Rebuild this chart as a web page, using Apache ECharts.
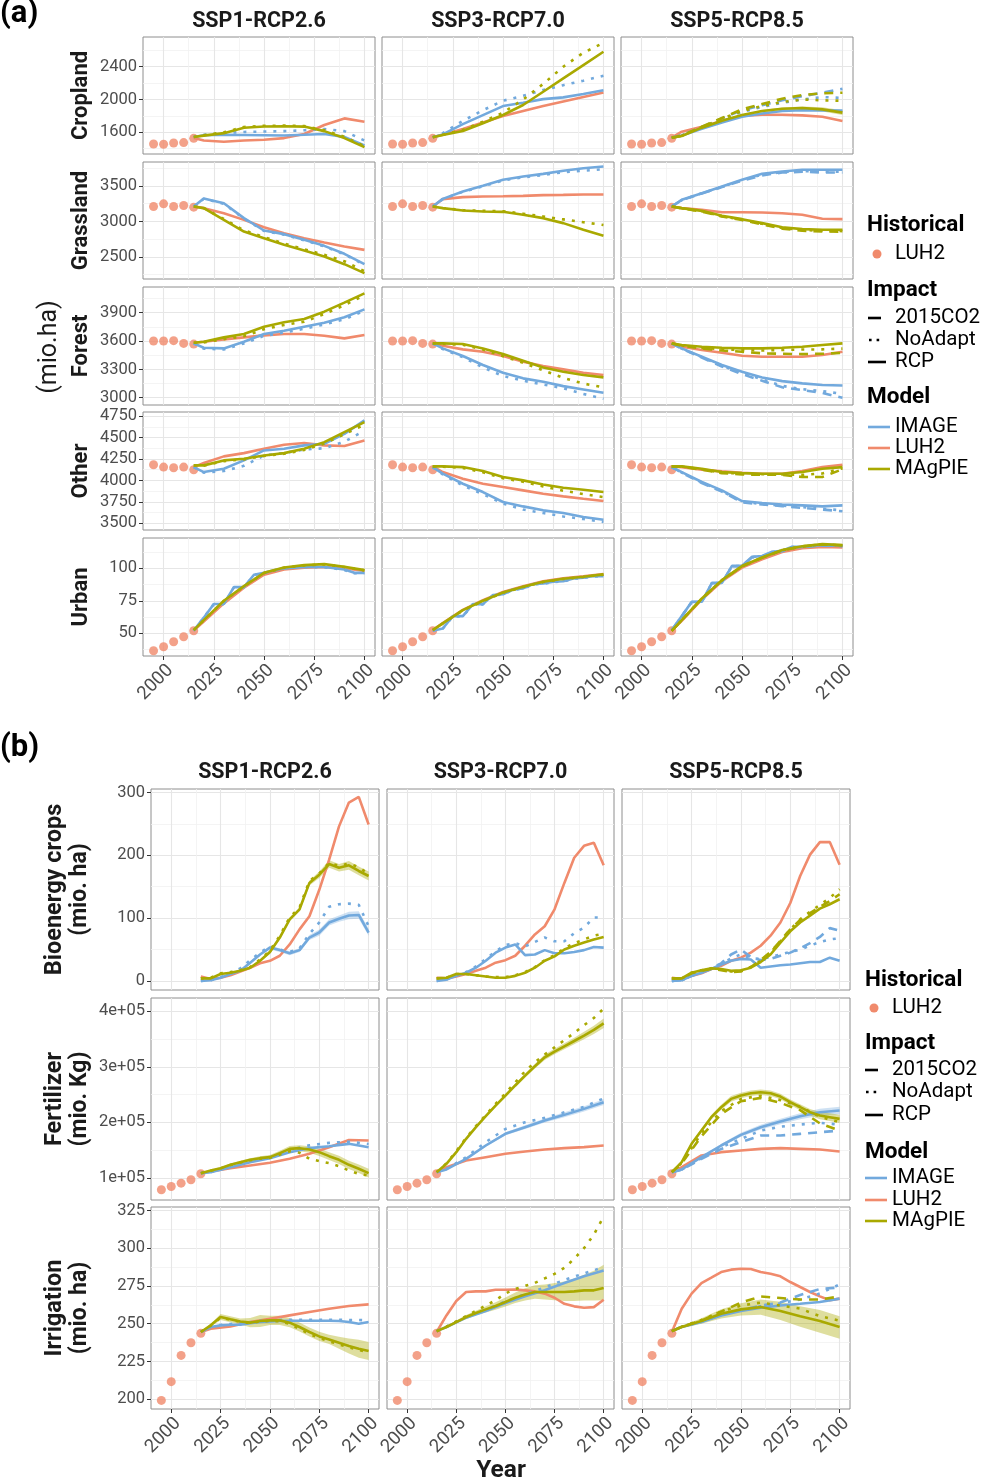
<!DOCTYPE html>
<html><head><meta charset="utf-8">
<script src="https://cdn.jsdelivr.net/npm/echarts@6/dist/echarts.min.js"></script>
<style>html,body{margin:0;padding:0;background:#fff}#c{width:984px;height:1483px}</style>
</head><body><div id="c"></div>
<script>
// ---------------- years / ticks ----------------
const YEARS_HIST = [1995, 2000, 2005, 2010, 2015];
const YEARS10 = [2015, 2020, 2030, 2040, 2050, 2060, 2070, 2080, 2090, 2100];
const YEARS5 = [2015, 2020, 2025, 2030, 2035, 2040, 2045, 2050, 2055, 2060, 2065, 2070, 2075, 2080, 2085, 2090, 2095, 2100];
const X_MAJOR = [2000, 2025, 2050, 2075, 2100];
const X_MINOR = [2012.5, 2037.5, 2062.5, 2087.5];
const SCENARIOS = ['SSP1-RCP2.6', 'SSP3-RCP7.0', 'SSP5-RCP8.5'];

// ---------------- historical (LUH2) ----------------
const HIST_CROP = [1458, 1455, 1470, 1475, 1527];
const HIST_GRASS = [3211, 3249, 3211, 3225, 3202];
const HIST_FOREST = [3600, 3600, 3604, 3575, 3568];
const HIST_OTHER = [4182, 4155, 4148, 4155, 4124];
const HIST_URBAN = [36.5, 39.6, 43.5, 47.3, 51.9];
const HIST_FERT = [78400, 84400, 90400, 96400, 107200];
const HIST_IRR = [199.2, 211.6, 229, 237.4, 243.6];

// ---------------- Cropland ----------------
const CROP_S1_LUH = [1530, 1500, 1485, 1500, 1510, 1530, 1580, 1690, 1770, 1730];
const CROP_S1_IMG_RCP = [1543, 1565, 1570, 1568, 1565, 1562, 1570, 1580, 1545, 1440];
const CROP_S1_IMG_NOA = [1543, 1570, 1590, 1605, 1610, 1615, 1625, 1640, 1615, 1500];
const CROP_S1_MAG_RCP = [1543, 1560, 1590, 1655, 1672, 1675, 1670, 1615, 1530, 1420];
const CROP_S1_MAG_NOA = [1543, 1565, 1600, 1665, 1680, 1682, 1676, 1625, 1545, 1430];
const CROP_S3_LUH = [1540, 1570, 1640, 1720, 1800, 1860, 1920, 1975, 2030, 2085];
const CROP_S3_IMG_RCP = [1540, 1575, 1700, 1810, 1920, 1960, 2005, 2026, 2067, 2112];
const CROP_S3_IMG_NOA = [1540, 1590, 1740, 1870, 1985, 2045, 2115, 2175, 2230, 2290];
const CROP_S3_MAG_RCP = [1540, 1567, 1616, 1710, 1811, 1933, 2095, 2258, 2420, 2582];
const CROP_S3_MAG_NOA = [1540, 1570, 1630, 1730, 1840, 2000, 2190, 2400, 2570, 2690];
const CROP_S5_LUH = [1535, 1608, 1669, 1738, 1799, 1815, 1815, 1807, 1790, 1738];
const CROP_S5_IMG_RCP = [1535, 1560, 1645, 1720, 1790, 1830, 1860, 1870, 1868, 1865];
const CROP_S5_IMG_CO2 = [1535, 1565, 1665, 1770, 1870, 1930, 1990, 2040, 2083, 2130];
const CROP_S5_IMG_NOA = [1535, 1565, 1660, 1760, 1850, 1910, 1960, 2000, 2030, 2020];
const CROP_S5_MAG_RCP = [1535, 1555, 1657, 1742, 1811, 1860, 1888, 1896, 1880, 1840];
const CROP_S5_MAG_CO2 = [1535, 1560, 1670, 1775, 1880, 1945, 2010, 2055, 2075, 2083];
const CROP_S5_MAG_NOA = [1535, 1558, 1665, 1765, 1860, 1920, 1970, 2000, 1990, 1985];
const CROP_S5_MAG_LO = [1535, 1553, 1652, 1735, 1802, 1848, 1872, 1876, 1855, 1810];
const CROP_S5_MAG_HI = [1535, 1557, 1662, 1749, 1820, 1872, 1904, 1916, 1905, 1870];

// ---------------- Grassland ----------------
const GRASS_S1_LUH = [3211, 3188, 3117, 3023, 2920, 2836, 2765, 2704, 2648, 2600];
const GRASS_S1_IMG_RCP = [3211, 3324, 3258, 3047, 2873, 2822, 2742, 2657, 2545, 2399];
const GRASS_S1_IMG_NOA = [3211, 3320, 3250, 3040, 2868, 2815, 2735, 2650, 2538, 2390];
const GRASS_S1_MAG_RCP = [3211, 3188, 3023, 2859, 2765, 2671, 2591, 2507, 2399, 2272];
const GRASS_S1_MAG_NOA = [3211, 3190, 3035, 2875, 2780, 2690, 2610, 2530, 2440, 2300];
const GRASS_S3_LUH = [3211, 3315, 3343, 3352, 3355, 3361, 3371, 3375, 3380, 3380];
const GRASS_S3_IMG_RCP = [3211, 3319, 3423, 3502, 3587, 3634, 3671, 3714, 3751, 3775];
const GRASS_S3_IMG_NOA = [3211, 3315, 3418, 3495, 3578, 3622, 3655, 3695, 3715, 3735];
const GRASS_S3_MAG_RCP = [3211, 3188, 3155, 3141, 3136, 3094, 3047, 2977, 2883, 2798];
const GRASS_S3_MAG_NOA = [3211, 3190, 3160, 3150, 3145, 3110, 3070, 3030, 2990, 2950];
const GRASS_S5_LUH = [3211, 3188, 3164, 3131, 3131, 3127, 3117, 3094, 3038, 3033];
const GRASS_S5_IMG_RCP = [3211, 3305, 3399, 3493, 3587, 3671, 3704, 3728, 3728, 3728];
const GRASS_S5_IMG_CO2 = [3211, 3300, 3395, 3485, 3575, 3650, 3690, 3700, 3690, 3690];
const GRASS_S5_IMG_NOA = [3211, 3302, 3397, 3488, 3580, 3660, 3695, 3710, 3700, 3700];
const GRASS_S5_MAG_RCP = [3211, 3188, 3150, 3080, 3033, 2977, 2920, 2892, 2883, 2883];
const GRASS_S5_MAG_CO2 = [3211, 3185, 3140, 3070, 3020, 2960, 2900, 2870, 2860, 2855];
const GRASS_S5_MAG_NOA = [3211, 3186, 3145, 3075, 3025, 2968, 2910, 2880, 2870, 2865];

// ---------------- Forest ----------------
const FOR_S1_LUH = [3582, 3593, 3618, 3639, 3660, 3674, 3674, 3656, 3628, 3664];
const FOR_S1_IMG_RCP = [3575, 3529, 3522, 3593, 3674, 3709, 3752, 3794, 3851, 3935];
const FOR_S1_IMG_NOA = [3575, 3520, 3510, 3575, 3655, 3690, 3730, 3775, 3830, 3920];
const FOR_S1_MAG_RCP = [3582, 3593, 3639, 3674, 3752, 3798, 3833, 3911, 4006, 4105];
const FOR_S1_MAG_NOA = [3582, 3585, 3620, 3650, 3725, 3770, 3805, 3885, 3980, 4085];
const FOR_S3_LUH = [3575, 3551, 3512, 3487, 3441, 3381, 3335, 3300, 3265, 3240];
const FOR_S3_IMG_RCP = [3575, 3522, 3441, 3346, 3265, 3205, 3169, 3123, 3088, 3053];
const FOR_S3_IMG_NOA = [3575, 3515, 3430, 3320, 3230, 3180, 3140, 3100, 3040, 2990];
const FOR_S3_MAG_RCP = [3575, 3575, 3568, 3522, 3462, 3392, 3321, 3275, 3240, 3215];
const FOR_S3_MAG_NOA = [3575, 3570, 3560, 3510, 3440, 3370, 3290, 3210, 3150, 3110];
const FOR_S5_LUH = [3575, 3540, 3505, 3476, 3445, 3434, 3434, 3434, 3452, 3487];
const FOR_S5_IMG_RCP = [3575, 3522, 3434, 3346, 3275, 3215, 3176, 3152, 3134, 3130];
const FOR_S5_IMG_CO2 = [3575, 3518, 3425, 3330, 3250, 3180, 3110, 3080, 3050, 3000];
const FOR_S5_IMG_NOA = [3575, 3520, 3430, 3338, 3262, 3195, 3125, 3090, 3070, 3040];
const FOR_S5_MAG_RCP = [3575, 3558, 3540, 3529, 3522, 3522, 3529, 3540, 3558, 3575];
const FOR_S5_MAG_CO2 = [3575, 3550, 3520, 3500, 3487, 3470, 3465, 3462, 3465, 3475];
const FOR_S5_MAG_NOA = [3575, 3553, 3528, 3512, 3505, 3500, 3505, 3510, 3512, 3520];

// ---------------- Other ----------------
const OTH_S1_LUH = [4155, 4202, 4280, 4318, 4369, 4415, 4435, 4408, 4400, 4466];
const OTH_S1_IMG_RCP = [4155, 4097, 4136, 4233, 4349, 4369, 4408, 4427, 4543, 4699];
const OTH_S1_IMG_NOA = [4155, 4090, 4110, 4170, 4290, 4320, 4360, 4375, 4450, 4580];
const OTH_S1_MAG_RCP = [4175, 4175, 4233, 4252, 4291, 4318, 4369, 4446, 4563, 4679];
const OTH_S1_MAG_NOA = [4175, 4172, 4225, 4245, 4285, 4310, 4355, 4430, 4540, 4650];
const OTH_S3_LUH = [4163, 4097, 4019, 3961, 3922, 3884, 3845, 3814, 3786, 3759];
const OTH_S3_IMG_RCP = [4155, 4078, 3961, 3864, 3748, 3697, 3651, 3620, 3573, 3542];
const OTH_S3_IMG_NOA = [4155, 4070, 3940, 3840, 3730, 3660, 3620, 3580, 3550, 3515];
const OTH_S3_MAG_RCP = [4163, 4163, 4155, 4109, 4039, 4000, 3953, 3915, 3891, 3864];
const OTH_S3_MAG_NOA = [4163, 4160, 4145, 4095, 4025, 3985, 3930, 3880, 3840, 3805];
const OTH_S5_LUH = [4163, 4155, 4124, 4105, 4089, 4078, 4078, 4109, 4155, 4182];
const OTH_S5_IMG_RCP = [4155, 4097, 3981, 3884, 3759, 3736, 3720, 3709, 3697, 3709];
const OTH_S5_IMG_CO2 = [4155, 4090, 3970, 3870, 3745, 3720, 3700, 3680, 3660, 3640];
const OTH_S5_IMG_NOA = [4155, 4092, 3975, 3875, 3750, 3725, 3705, 3690, 3670, 3650];
const OTH_S5_MAG_RCP = [4163, 4163, 4136, 4097, 4085, 4078, 4078, 4097, 4136, 4155];
const OTH_S5_MAG_CO2 = [4163, 4160, 4125, 4085, 4070, 4065, 4065, 4040, 4040, 4130];
const OTH_S5_MAG_NOA = [4163, 4161, 4130, 4090, 4078, 4072, 4070, 4065, 4080, 4140];

// ---------------- Urban ----------------
const URB_S1_LUH = [52, 59, 73, 85, 95, 99, 100.5, 101, 100, 98];
const URB_S1_IMG_RCP = [52, 62, 72.5, 72.5, 85.5, 85.5, 95, 96.5, 98.5, 100, 100.5, 101, 101, 101, 100, 99, 96.5, 96.5];
const URB_S1_IMG_NOA = [52, 62, 72.3, 72.3, 85.3, 85.3, 94.8, 96.3, 98.3, 99.8, 100.4, 100.9, 100.9, 100.8, 99.8, 98.6, 96.2, 96.2];
const URB_S1_MAG_RCP = [52.4, 60.1, 75, 86.3, 96.5, 100.6, 102.4, 103.2, 101.2, 98.6];
const URB_S1_MAG_NOA = [52.4, 60, 74.8, 86, 96.3, 100.5, 102.2, 103, 101, 98.4];
const URB_S3_LUH = [52.4, 57.8, 68, 75.5, 81.8, 86.2, 90, 92.3, 93.8, 95.5];
const URB_S3_IMG_RCP = [52, 53.7, 63.2, 63.2, 72.4, 72.4, 79.4, 80, 83.7, 84.5, 87.8, 88.3, 89.6, 90, 92.2, 92.7, 94, 94];
const URB_S3_IMG_NOA = [52, 53.6, 63, 63, 72.2, 72.2, 79.2, 79.8, 83.5, 84.3, 87.6, 88.1, 89.4, 89.8, 92, 92.5, 93.8, 93.8];
const URB_S3_MAG_RCP = [52.4, 57.6, 67.8, 75, 81.4, 85.8, 89.6, 91.9, 93.5, 95.3];
const URB_S3_MAG_NOA = [52.4, 57.5, 67.6, 74.8, 81.2, 85.6, 89.4, 91.7, 93.3, 95.1];
const URB_S5_LUH = [52, 59.5, 76, 90, 100.5, 107, 112.5, 115.5, 116.5, 116];
const URB_S5_IMG_RCP = [52.4, 63.2, 74.2, 74.2, 88.8, 88.8, 101.9, 101.9, 108.8, 109.4, 112.7, 113.5, 116.6, 116.6, 117.4, 117.8, 117.8, 117.3];
const URB_S5_IMG_CO2 = [52.4, 63, 74, 74, 88.5, 88.5, 101.5, 101.5, 108.4, 109, 112.3, 113.1, 116.2, 116.2, 117, 117.4, 117.4, 117];
const URB_S5_IMG_NOA = [52.4, 63.1, 74.1, 74.1, 88.6, 88.6, 101.7, 101.7, 108.6, 109.2, 112.5, 113.3, 116.4, 116.4, 117.2, 117.6, 117.6, 117.1];
const URB_S5_MAG_RCP = [51.9, 60.1, 76.8, 90.9, 101.7, 108.3, 114, 117, 118.6, 117.8];
const URB_S5_MAG_CO2 = [51.9, 60, 76.6, 90.7, 101.5, 108.1, 113.8, 116.8, 118.4, 117.6];
const URB_S5_MAG_NOA = [51.9, 60.1, 76.7, 90.8, 101.6, 108.2, 113.9, 116.9, 118.5, 117.7];

// ---------------- Bioenergy crops ----------------
const BIO_S1_LUH = [7, 3, 5, 9, 15, 21, 28, 32, 40, 58, 82, 103, 145, 193, 246, 284, 293, 249];
const BIO_S1_IMG_RCP = [0, 1, 5, 11, 16, 29, 42, 53, 49, 44, 49, 69, 77, 93, 99, 104, 105, 77];
const BIO_S1_IMG_NOA = [0, 1, 6, 13, 20, 33, 45, 55, 50, 46, 52, 75, 93, 118, 122, 123, 121, 87];
const BIO_S1_IMG_LO = [0, 1, 5, 10, 15, 27, 40, 50, 46, 41, 46, 65, 72, 88, 94, 98, 99, 72];
const BIO_S1_IMG_HI = [0, 1, 6, 12, 17, 31, 44, 56, 52, 47, 52, 73, 82, 98, 104, 110, 111, 83];
const BIO_S1_MAG_RCP = [4, 4, 11, 13, 16, 21, 32, 46, 69, 98, 114, 156, 169, 186, 180, 184, 175, 167];
const BIO_S1_MAG_NOA = [4, 5, 12, 14, 17, 22, 34, 48, 72, 101, 117, 159, 171, 188, 183, 187, 181, 170];
const BIO_S1_MAG_LO = [4, 4, 10, 12, 15, 19, 30, 43, 66, 95, 111, 152, 164, 180, 174, 177, 168, 160];
const BIO_S1_MAG_HI = [4, 4, 12, 14, 17, 23, 34, 49, 72, 101, 117, 160, 174, 192, 186, 191, 182, 174];
const BIO_S3_LUH = [5, 4, 7, 11, 16, 21, 29, 33, 40, 56, 74, 87, 114, 156, 196, 215, 220, 184];
const BIO_S3_IMG_RCP = [0, 2, 8, 13, 21, 32, 45, 53, 58, 41, 42, 49, 44, 44, 46, 49, 54, 53];
const BIO_S3_IMG_NOA = [0, 2, 9, 14, 23, 35, 47, 57, 60, 55, 62, 69, 63, 63, 76, 85, 101, 101];
const BIO_S3_MAG_RCP = [4, 5, 11, 11, 9, 7, 5, 5, 8, 13, 21, 32, 39, 50, 56, 61, 66, 70];
const BIO_S3_MAG_NOA = [4, 5, 11, 11, 9, 7, 6, 6, 9, 14, 22, 33, 41, 52, 60, 66, 72, 75];
const BIO_S5_LUH = [5, 3, 8, 12, 19, 24, 32, 37, 45, 56, 72, 93, 124, 167, 201, 221, 221, 185];
const BIO_S5_IMG_RCP = [0, 1, 8, 13, 19, 26, 32, 35, 34, 21, 23, 25, 26, 28, 30, 30, 37, 32];
const BIO_S5_IMG_CO2 = [0, 1, 8, 14, 20, 28, 42, 50, 38, 33, 35, 40, 45, 52, 60, 70, 84, 80];
const BIO_S5_IMG_NOA = [0, 1, 8, 13, 20, 27, 36, 42, 36, 35, 38, 42, 46, 50, 56, 62, 66, 68];
const BIO_S5_MAG_RCP = [4, 4, 13, 17, 20, 19, 16, 17, 21, 30, 42, 61, 79, 93, 104, 115, 122, 130];
const BIO_S5_MAG_CO2 = [4, 4, 12, 16, 19, 17, 14, 15, 22, 33, 46, 64, 82, 97, 108, 118, 127, 138];
const BIO_S5_MAG_NOA = [4, 4, 13, 17, 20, 18, 15, 16, 22, 32, 45, 63, 82, 98, 110, 121, 132, 146];

// ---------------- Fertilizer ----------------
const FERT_S1_LUH = [108400, 111400, 117400, 122200, 127000, 134200, 143200, 155200, 168000, 167200];
const FERT_S1_IMG_RCP = [108400, 110200, 119200, 128200, 135400, 146200, 153400, 157000, 161200, 155200];
const FERT_S1_IMG_NOA = [108400, 110500, 120000, 129500, 137000, 150000, 158500, 163000, 165000, 161000];
const FERT_S1_MAG_RCP = [108400, 113200, 117400, 123400, 128200, 132400, 135400, 137200, 144400, 152200, 153400, 151000, 146200, 139000, 132400, 123400, 116200, 108400];
const FERT_S1_MAG_NOA = [108400, 112800, 117000, 123000, 127500, 131500, 134500, 136000, 142000, 148000, 145000, 134200, 130000, 126400, 121000, 113200, 107200, 104200];
const FERT_S1_MAG_LO = [108400, 112000, 115500, 121000, 125500, 129500, 132000, 133500, 140000, 147000, 148000, 145000, 139500, 132000, 125000, 116000, 108500, 100500];
const FERT_S1_MAG_HI = [108400, 114400, 119300, 125800, 130900, 135300, 138800, 141000, 148800, 157400, 158800, 157000, 152900, 146000, 139800, 130800, 123900, 116300];
const FERT_S3_LUH = [110200, 119200, 131200, 137200, 143200, 147400, 151000, 153400, 155200, 158200];
const FERT_S3_IMG_RCP = [110200, 115000, 134200, 158200, 179200, 191200, 203200, 213400, 224200, 236200];
const FERT_S3_IMG_NOA = [110200, 116000, 137000, 164200, 188000, 200000, 208000, 218000, 228000, 243000];
const FERT_S3_IMG_LO = [110200, 114000, 132500, 156000, 176500, 188000, 199500, 209000, 219500, 231000];
const FERT_S3_IMG_HI = [110200, 116000, 136000, 160500, 182000, 194500, 207000, 218000, 229000, 241500];
const FERT_S3_MAG_RCP = [110200, 125200, 146200, 170200, 191200, 211000, 230200, 248200, 266400, 284200, 301000, 317200, 327500, 337000, 346500, 356200, 366500, 378400];
const FERT_S3_MAG_NOA = [110200, 126000, 148000, 172000, 193000, 213000, 233000, 252000, 272000, 292000, 308000, 322000, 335000, 348000, 361000, 375000, 388000, 405000];
const FERT_S3_MAG_LO = [110200, 124500, 145000, 168500, 189000, 208500, 227500, 245000, 263000, 280500, 297000, 312500, 322500, 331500, 340500, 349500, 359000, 370000];
const FERT_S3_MAG_HI = [110200, 126000, 147500, 172000, 193500, 213500, 233000, 251500, 270000, 288000, 305000, 322000, 332500, 342500, 352500, 363000, 374000, 387000];
const FERT_S5_LUH = [110200, 119200, 140200, 146200, 149200, 152200, 153400, 152200, 151000, 147400];
const FERT_S5_IMG_RCP = [110200, 115000, 137200, 158200, 177400, 191200, 201400, 211000, 218200, 221200];
const FERT_S5_IMG_CO2 = [110200, 114500, 134000, 152000, 164200, 176200, 176200, 179200, 182200, 185200];
const FERT_S5_IMG_NOA = [110200, 114800, 135500, 155000, 170000, 185000, 192000, 196000, 199000, 196000];
const FERT_S5_IMG_LO = [110200, 114000, 135500, 155500, 174000, 187000, 196500, 205500, 212000, 214500];
const FERT_S5_IMG_HI = [110200, 116000, 139000, 161000, 181000, 195500, 206500, 216500, 224500, 228000];
const FERT_S5_MAG_RCP = [110200, 128200, 161200, 185200, 209200, 227200, 242200, 248200, 252400, 254200, 252400, 246400, 236200, 227200, 218200, 212200, 209200, 206200];
const FERT_S5_MAG_CO2 = [110200, 126000, 175000, 215000, 238000, 244000, 235000, 222000, 198000, 185000];
const FERT_S5_MAG_NOA = [110200, 127000, 180000, 220000, 242000, 248000, 240000, 228000, 210000, 200000];
const FERT_S5_MAG_LO = [110200, 126700, 158200, 181700, 205200, 222700, 237200, 243200, 247400, 249200, 247400, 241400, 231200, 221700, 212200, 205700, 202200, 198700];
const FERT_S5_MAG_HI = [110200, 129700, 164200, 188700, 213200, 231700, 247200, 253200, 257400, 259200, 257400, 251400, 241200, 232700, 224200, 218700, 216200, 213700];

// ---------------- Irrigation ----------------
const IRR_S1_LUH = [244.5, 246.7, 248.2, 251.1, 253.3, 255.5, 257.7, 259.9, 261.7, 262.8];
const IRR_S1_IMG_RCP = [244.5, 247.8, 248.9, 249.3, 249.3, 250.4, 251.1, 251.5, 251.8, 252, 252, 252, 252, 252, 251.8, 251.1, 250, 251.1];
const IRR_S1_IMG_NOA = [244.5, 248, 249.2, 249.8, 250.3, 251, 251.8, 252.2, 252.5, 252.6, 252.6, 252.6, 252.6, 252.6, 252.6, 252.5, 252.5, 252.2];
const IRR_S1_MAG_RCP = [244.5, 248.9, 254.4, 252.9, 251.5, 250.7, 251.8, 252.2, 252.2, 250.7, 247.8, 244.5, 241.6, 239.6, 237.4, 235.2, 233.4, 231.9];
const IRR_S1_MAG_NOA = [244.5, 248.7, 254, 252.6, 251.2, 250.4, 251.5, 251.8, 251.6, 249.8, 246.5, 243.2, 240.5, 238.4, 236.3, 234.3, 232.6, 231];
const IRR_S1_MAG_LO = [244.5, 247.9, 252.4, 250.9, 249.5, 247.7, 247.8, 249.2, 249.2, 247.7, 244.8, 241.5, 238.6, 236.6, 233.4, 230.2, 227.4, 225.9];
const IRR_S1_MAG_HI = [244.5, 249.9, 256.4, 254.9, 253.5, 253.7, 255.8, 255.2, 255.2, 253.7, 250.8, 247.5, 244.6, 242.6, 241.4, 240.2, 239.4, 237.9];
const IRR_S3_LUH = [244.5, 255.5, 265, 271, 271.4, 271.4, 272.5, 272.5, 272.7, 272.1, 271.4, 269.9, 267.2, 263.2, 261.5, 260.6, 261, 265.9];
const IRR_S3_IMG_RCP = [245.1, 247.8, 254, 258.4, 263.7, 268.1, 272.1, 277, 281.4, 285.3];
const IRR_S3_IMG_NOA = [245.1, 248, 254.5, 259.2, 264.8, 269.5, 274, 279, 283.3, 287.5];
const IRR_S3_MAG_RCP = [245.1, 247.8, 251.1, 254.4, 257.1, 259.5, 261.7, 264.4, 267.2, 269.4, 271, 271, 271, 271, 271.4, 272.1, 272.1, 273.6];
const IRR_S3_MAG_NOA = [245, 248, 251.5, 255, 258.5, 262, 265.5, 270, 273, 275, 277, 280, 283, 287, 293, 300, 309, 321];
const IRR_S3_MAG_LO = [245.1, 247.3, 250.1, 253, 255.6, 257.5, 259.2, 261.4, 263.7, 265.4, 266.5, 266, 265.5, 265, 265, 265.3, 265.3, 265.5];
const IRR_S3_MAG_HI = [245.1, 248.3, 252.1, 255.8, 258.6, 261.5, 264.2, 267.4, 270.7, 273.4, 275.5, 276, 277, 278, 280, 282.5, 285, 289];
const IRR_S5_LUH = [244.5, 259.9, 269.9, 276.9, 280.5, 284.2, 285.8, 286.4, 286.2, 284.2, 283.1, 281.4, 277.6, 274.3, 271, 268.1, 265.5, 266.6];
const IRR_S5_IMG_RCP = [245.1, 247.8, 251.1, 255.5, 258.4, 260.6, 262.1, 263.2, 264.4, 266.6];
const IRR_S5_IMG_CO2 = [245.1, 248, 251.5, 256, 259, 262, 264, 269, 273, 274];
const IRR_S5_IMG_NOA = [245.1, 248, 251.3, 255.8, 259, 261.5, 263.5, 266, 270, 276];
const IRR_S5_MAG_RCP = [245.1, 247.8, 251.8, 256.6, 259.5, 261, 258.4, 254.9, 251.8, 247.8];
const IRR_S5_MAG_CO2 = [245.1, 248, 252, 258, 264, 268, 267, 266, 266, 268];
const IRR_S5_MAG_NOA = [245.1, 248, 252.5, 258, 262, 264, 262, 260, 255, 252];
const IRR_S5_MAG_LO = [245.1, 247, 250, 253.5, 255.5, 256, 252.5, 248, 244, 240];
const IRR_S5_MAG_HI = [245.1, 248.6, 253.6, 259.6, 263.5, 266, 264.5, 261.5, 259, 255];

// ---------------- panel contents ----------------
const P = (m, i, d) => ({model: m, impact: i, data: d});
const B = (m, lo, hi) => ({model: m, lo: lo, hi: hi});
const PANELS_A = [
  { label: 'Cropland', min: 1336, max: 2762, major: [1600, 2000, 2400], minor: [1400, 1800, 2200, 2600], hist: HIST_CROP,
    lines: [
      [P('LUH2','RCP',CROP_S1_LUH), P('IMAGE','NoAdapt',CROP_S1_IMG_NOA), P('IMAGE','RCP',CROP_S1_IMG_RCP), P('MAgPIE','NoAdapt',CROP_S1_MAG_NOA), P('MAgPIE','RCP',CROP_S1_MAG_RCP)],
      [P('LUH2','RCP',CROP_S3_LUH), P('IMAGE','NoAdapt',CROP_S3_IMG_NOA), P('IMAGE','RCP',CROP_S3_IMG_RCP), P('MAgPIE','NoAdapt',CROP_S3_MAG_NOA), P('MAgPIE','RCP',CROP_S3_MAG_RCP)],
      [P('LUH2','RCP',CROP_S5_LUH), P('IMAGE','2015CO2',CROP_S5_IMG_CO2), P('IMAGE','NoAdapt',CROP_S5_IMG_NOA), P('IMAGE','RCP',CROP_S5_IMG_RCP), P('MAgPIE','2015CO2',CROP_S5_MAG_CO2), P('MAgPIE','NoAdapt',CROP_S5_MAG_NOA), P('MAgPIE','RCP',CROP_S5_MAG_RCP)]],
    bands: [[], [], [B('MAgPIE', CROP_S5_MAG_LO, CROP_S5_MAG_HI)]] },
  { label: 'Grassland', min: 2190, max: 3838, major: [2500, 3000, 3500], minor: [2250, 2750, 3250, 3750], hist: HIST_GRASS,
    lines: [
      [P('LUH2','RCP',GRASS_S1_LUH), P('IMAGE','NoAdapt',GRASS_S1_IMG_NOA), P('IMAGE','RCP',GRASS_S1_IMG_RCP), P('MAgPIE','NoAdapt',GRASS_S1_MAG_NOA), P('MAgPIE','RCP',GRASS_S1_MAG_RCP)],
      [P('LUH2','RCP',GRASS_S3_LUH), P('IMAGE','NoAdapt',GRASS_S3_IMG_NOA), P('IMAGE','RCP',GRASS_S3_IMG_RCP), P('MAgPIE','NoAdapt',GRASS_S3_MAG_NOA), P('MAgPIE','RCP',GRASS_S3_MAG_RCP)],
      [P('LUH2','RCP',GRASS_S5_LUH), P('IMAGE','2015CO2',GRASS_S5_IMG_CO2), P('IMAGE','NoAdapt',GRASS_S5_IMG_NOA), P('IMAGE','RCP',GRASS_S5_IMG_RCP), P('MAgPIE','2015CO2',GRASS_S5_MAG_CO2), P('MAgPIE','NoAdapt',GRASS_S5_MAG_NOA), P('MAgPIE','RCP',GRASS_S5_MAG_RCP)]],
    bands: [[], [], []] },
  { label: 'Forest', min: 2923, max: 4172, major: [3000, 3300, 3600, 3900], minor: [3150, 3450, 3750, 4050], hist: HIST_FOREST,
    lines: [
      [P('LUH2','RCP',FOR_S1_LUH), P('IMAGE','NoAdapt',FOR_S1_IMG_NOA), P('IMAGE','RCP',FOR_S1_IMG_RCP), P('MAgPIE','NoAdapt',FOR_S1_MAG_NOA), P('MAgPIE','RCP',FOR_S1_MAG_RCP)],
      [P('LUH2','RCP',FOR_S3_LUH), P('IMAGE','NoAdapt',FOR_S3_IMG_NOA), P('IMAGE','RCP',FOR_S3_IMG_RCP), P('MAgPIE','NoAdapt',FOR_S3_MAG_NOA), P('MAgPIE','RCP',FOR_S3_MAG_RCP)],
      [P('LUH2','RCP',FOR_S5_LUH), P('IMAGE','2015CO2',FOR_S5_IMG_CO2), P('IMAGE','NoAdapt',FOR_S5_IMG_NOA), P('IMAGE','RCP',FOR_S5_IMG_RCP), P('MAgPIE','2015CO2',FOR_S5_MAG_CO2), P('MAgPIE','NoAdapt',FOR_S5_MAG_NOA), P('MAgPIE','RCP',FOR_S5_MAG_RCP)]],
    bands: [[], [], []] },
  { label: 'Other', min: 3422, max: 4797, major: [3500, 3750, 4000, 4250, 4500, 4750], minor: [3625, 3875, 4125, 4375, 4625], hist: HIST_OTHER,
    lines: [
      [P('LUH2','RCP',OTH_S1_LUH), P('IMAGE','NoAdapt',OTH_S1_IMG_NOA), P('IMAGE','RCP',OTH_S1_IMG_RCP), P('MAgPIE','NoAdapt',OTH_S1_MAG_NOA), P('MAgPIE','RCP',OTH_S1_MAG_RCP)],
      [P('LUH2','RCP',OTH_S3_LUH), P('IMAGE','NoAdapt',OTH_S3_IMG_NOA), P('IMAGE','RCP',OTH_S3_IMG_RCP), P('MAgPIE','NoAdapt',OTH_S3_MAG_NOA), P('MAgPIE','RCP',OTH_S3_MAG_RCP)],
      [P('LUH2','RCP',OTH_S5_LUH), P('IMAGE','2015CO2',OTH_S5_IMG_CO2), P('IMAGE','NoAdapt',OTH_S5_IMG_NOA), P('IMAGE','RCP',OTH_S5_IMG_RCP), P('MAgPIE','2015CO2',OTH_S5_MAG_CO2), P('MAgPIE','NoAdapt',OTH_S5_MAG_NOA), P('MAgPIE','RCP',OTH_S5_MAG_RCP)]],
    bands: [[], [], []] },
  { label: 'Urban', min: 32.5, max: 123.3, major: [50, 75, 100], minor: [37.5, 62.5, 87.5, 112.5], hist: HIST_URBAN,
    lines: [
      [P('LUH2','RCP',URB_S1_LUH), P('IMAGE','NoAdapt',URB_S1_IMG_NOA), P('IMAGE','RCP',URB_S1_IMG_RCP), P('MAgPIE','NoAdapt',URB_S1_MAG_NOA), P('MAgPIE','RCP',URB_S1_MAG_RCP)],
      [P('LUH2','RCP',URB_S3_LUH), P('IMAGE','NoAdapt',URB_S3_IMG_NOA), P('IMAGE','RCP',URB_S3_IMG_RCP), P('MAgPIE','NoAdapt',URB_S3_MAG_NOA), P('MAgPIE','RCP',URB_S3_MAG_RCP)],
      [P('LUH2','RCP',URB_S5_LUH), P('IMAGE','2015CO2',URB_S5_IMG_CO2), P('IMAGE','NoAdapt',URB_S5_IMG_NOA), P('IMAGE','RCP',URB_S5_IMG_RCP), P('MAgPIE','2015CO2',URB_S5_MAG_CO2), P('MAgPIE','NoAdapt',URB_S5_MAG_NOA), P('MAgPIE','RCP',URB_S5_MAG_RCP)]],
    bands: [[], [], []] }
];
const PANELS_B = [
  { label: ['Bioenergy crops', '(mio. ha)'], min: -14.5, max: 305.5, major: [0, 100, 200, 300], minor: [50, 150, 250], hist: null,
    lines: [
      [P('LUH2','RCP',BIO_S1_LUH), P('IMAGE','NoAdapt',BIO_S1_IMG_NOA), P('IMAGE','RCP',BIO_S1_IMG_RCP), P('MAgPIE','NoAdapt',BIO_S1_MAG_NOA), P('MAgPIE','RCP',BIO_S1_MAG_RCP)],
      [P('LUH2','RCP',BIO_S3_LUH), P('IMAGE','NoAdapt',BIO_S3_IMG_NOA), P('IMAGE','RCP',BIO_S3_IMG_RCP), P('MAgPIE','NoAdapt',BIO_S3_MAG_NOA), P('MAgPIE','RCP',BIO_S3_MAG_RCP)],
      [P('LUH2','RCP',BIO_S5_LUH), P('IMAGE','2015CO2',BIO_S5_IMG_CO2), P('IMAGE','NoAdapt',BIO_S5_IMG_NOA), P('IMAGE','RCP',BIO_S5_IMG_RCP), P('MAgPIE','2015CO2',BIO_S5_MAG_CO2), P('MAgPIE','NoAdapt',BIO_S5_MAG_NOA), P('MAgPIE','RCP',BIO_S5_MAG_RCP)]],
    bands: [[B('IMAGE', BIO_S1_IMG_LO, BIO_S1_IMG_HI), B('MAgPIE', BIO_S1_MAG_LO, BIO_S1_MAG_HI)], [], []] },
  { label: ['Fertilizer', '(mio. Kg)'], min: 60000, max: 424000, major: [100000, 200000, 300000, 400000], minor: [150000, 250000, 350000], hist: HIST_FERT, sci: true,
    lines: [
      [P('LUH2','RCP',FERT_S1_LUH), P('IMAGE','NoAdapt',FERT_S1_IMG_NOA), P('IMAGE','RCP',FERT_S1_IMG_RCP), P('MAgPIE','NoAdapt',FERT_S1_MAG_NOA), P('MAgPIE','RCP',FERT_S1_MAG_RCP)],
      [P('LUH2','RCP',FERT_S3_LUH), P('IMAGE','NoAdapt',FERT_S3_IMG_NOA), P('IMAGE','RCP',FERT_S3_IMG_RCP), P('MAgPIE','NoAdapt',FERT_S3_MAG_NOA), P('MAgPIE','RCP',FERT_S3_MAG_RCP)],
      [P('LUH2','RCP',FERT_S5_LUH), P('IMAGE','2015CO2',FERT_S5_IMG_CO2), P('IMAGE','NoAdapt',FERT_S5_IMG_NOA), P('IMAGE','RCP',FERT_S5_IMG_RCP), P('MAgPIE','2015CO2',FERT_S5_MAG_CO2), P('MAgPIE','NoAdapt',FERT_S5_MAG_NOA), P('MAgPIE','RCP',FERT_S5_MAG_RCP)]],
    bands: [[B('MAgPIE', FERT_S1_MAG_LO, FERT_S1_MAG_HI)], [B('IMAGE', FERT_S3_IMG_LO, FERT_S3_IMG_HI), B('MAgPIE', FERT_S3_MAG_LO, FERT_S3_MAG_HI)], [B('IMAGE', FERT_S5_IMG_LO, FERT_S5_IMG_HI), B('MAgPIE', FERT_S5_MAG_LO, FERT_S5_MAG_HI)]] },
  { label: ['Irrigation', '(mio. ha)'], min: 193.5, max: 327.3, major: [200, 225, 250, 275, 300, 325], minor: [212.5, 237.5, 262.5, 287.5, 312.5], hist: HIST_IRR,
    lines: [
      [P('LUH2','RCP',IRR_S1_LUH), P('IMAGE','NoAdapt',IRR_S1_IMG_NOA), P('IMAGE','RCP',IRR_S1_IMG_RCP), P('MAgPIE','NoAdapt',IRR_S1_MAG_NOA), P('MAgPIE','RCP',IRR_S1_MAG_RCP)],
      [P('LUH2','RCP',IRR_S3_LUH), P('IMAGE','NoAdapt',IRR_S3_IMG_NOA), P('IMAGE','RCP',IRR_S3_IMG_RCP), P('MAgPIE','NoAdapt',IRR_S3_MAG_NOA), P('MAgPIE','RCP',IRR_S3_MAG_RCP)],
      [P('LUH2','RCP',IRR_S5_LUH), P('IMAGE','2015CO2',IRR_S5_IMG_CO2), P('IMAGE','NoAdapt',IRR_S5_IMG_NOA), P('IMAGE','RCP',IRR_S5_IMG_RCP), P('MAgPIE','2015CO2',IRR_S5_MAG_CO2), P('MAgPIE','NoAdapt',IRR_S5_MAG_NOA), P('MAgPIE','RCP',IRR_S5_MAG_RCP)]],
    bands: [[B('MAgPIE', IRR_S1_MAG_LO, IRR_S1_MAG_HI)], [B('MAgPIE', IRR_S3_MAG_LO, IRR_S3_MAG_HI)], [B('MAgPIE', IRR_S5_MAG_LO, IRR_S5_MAG_HI)]] }
];

// ---------------- styling / layout ----------------
const FONT = 'Roboto';
const COLORS = { IMAGE: '#72a9dd', LUH2: '#f08a6c', MAgPIE: '#a9a900' };
const BAND_FILL = { IMAGE: 'rgba(114,169,221,0.35)', MAgPIE: 'rgba(169,169,0,0.38)' };
const DASH = { RCP: 'solid', NoAdapt: [3, 7], '2015CO2': [9, 7] };
const XR = [1989.75, 2105.25];
const COLS_A = [[143, 375], [382, 614], [621, 853]];
const ROWS_A = [[37, 154], [162, 279], [287, 405], [412, 530], [538, 656]];
const COLS_B = [[151, 379], [387, 614], [622, 850]];
const ROWS_B = [[789, 990], [998, 1200], [1207, 1409]];

const grids = [], xAxes = [], yAxes = [], series = [], graphics = [];
const yrsOf = v => v.length === 18 ? YEARS5 : YEARS10;

function bandRender(params, api) {
  if (params.dataIndexInside !== 0) return null;
  const n = params.dataInsideLength;
  const top = [], bot = [];
  for (let i = 0; i < n; i++) {
    const x = api.value(0, i);
    top.push(api.coord([x, api.value(2, i)]));
    bot.push(api.coord([x, api.value(1, i)]));
  }
  return { type: 'polygon', shape: { points: top.concat(bot.reverse()) },
    style: { fill: api.visual('color') } };
}

function addPanel(col, row, spec, ci, showX, showY) {
  const gi = grids.length;
  grids.push({ left: col[0], top: row[0], width: col[1] - col[0], height: row[1] - row[0],
    show: true, borderColor: '#8e8e8e', borderWidth: 1, backgroundColor: '#ffffff', containLabel: false });
  const xi = xAxes.length, yi = yAxes.length;
  const lab = { fontSize: 16.5, color: '#4d4d4d', fontFamily: FONT };
  xAxes.push({ type: 'value', gridIndex: gi, min: XR[0], max: XR[1], position: 'bottom',
    axisLine: { show: false },
    axisTick: { show: showX, customValues: X_MAJOR, length: 4, lineStyle: { color: '#333', width: 1 } },
    axisLabel: { show: showX, customValues: X_MAJOR, rotate: 45, margin: 5, formatter: v => String(v),
      fontSize: 18.5, color: '#4d4d4d', fontFamily: FONT, align: 'right', verticalAlign: 'top' },
    splitLine: { show: true, lineStyle: { color: '#e6e6e6', width: 1.1 } } });
  xAxes.push({ type: 'value', gridIndex: gi, min: XR[0], max: XR[1], position: 'top',
    axisLine: { show: false }, axisTick: { show: false, customValues: X_MINOR }, axisLabel: { show: false, customValues: X_MINOR },
    splitLine: { show: true, lineStyle: { color: '#f1f1f1', width: 0.8 } } });
  yAxes.push({ type: 'value', gridIndex: gi, min: spec.min, max: spec.max, position: 'left',
    axisLine: { show: false },
    axisTick: { show: showY, customValues: spec.major, length: 4, lineStyle: { color: '#333', width: 1 } },
    axisLabel: Object.assign({ show: showY, customValues: spec.major, margin: 6,
      formatter: spec.sci ? (v => (v / 100000).toFixed(0) + 'e+05') : (v => String(v)) }, lab),
    splitLine: { show: true, lineStyle: { color: '#e6e6e6', width: 1.1 } } });
  yAxes.push({ type: 'value', gridIndex: gi, min: spec.min, max: spec.max, position: 'right',
    axisLine: { show: false }, axisTick: { show: false, customValues: spec.minor }, axisLabel: { show: false, customValues: spec.minor },
    splitLine: { show: true, lineStyle: { color: '#f1f1f1', width: 0.8 } } });

  // uncertainty bands
  spec.bands[ci].forEach(b => {
    const yrs = yrsOf(b.lo);
    series.push({ type: 'custom', xAxisIndex: xi, yAxisIndex: yi, silent: true, animation: false, clip: true,
      itemStyle: { color: BAND_FILL[b.model] },
      encode: { x: 0, y: [1, 2] },
      renderItem: bandRender,
      data: b.lo.map((v, i) => [yrs[i], v, b.hi[i]]) });
  });
  // historical points
  if (spec.hist) {
    series.push({ type: 'scatter', xAxisIndex: xi, yAxisIndex: yi, silent: true, animation: false,
      symbol: 'circle', symbolSize: 9, itemStyle: { color: COLORS.LUH2 },
      data: spec.hist.map((v, i) => [YEARS_HIST[i], v]) });
  }
  // lines
  spec.lines[ci].forEach(l => {
    const yrs = yrsOf(l.data);
    series.push({ type: 'line', xAxisIndex: xi, yAxisIndex: yi, silent: true, animation: false,
      symbol: 'none', showSymbol: false,
      lineStyle: { color: COLORS[l.model], width: 2.6, type: DASH[l.impact], cap: 'butt' },
      data: l.data.map((v, i) => [yrs[i], v]) });
  });
}

PANELS_A.forEach((spec, r) => {
  COLS_A.forEach((col, c) => addPanel(col, ROWS_A[r], spec, c, r === PANELS_A.length - 1, c === 0));
});
PANELS_B.forEach((spec, r) => {
  COLS_B.forEach((col, c) => addPanel(col, ROWS_B[r], spec, c, r === PANELS_B.length - 1, c === 0));
});

// ---------------- text ----------------
function txt(x, y, text, size, weight, o) {
  o = o || {};
  const al = o.align || 'center';
  return { type: 'text', x: x, y: y, rotation: o.rot || 0, silent: true, z: 100,
    style: { text: text, fontSize: size, fontWeight: weight, fontFamily: FONT, fill: o.fill || '#1a1a1a',
      align: al, textAlign: al, verticalAlign: 'middle', textVerticalAlign: 'middle' } };
}
const R90 = Math.PI / 2;
graphics.push(txt(0, 14, '(a)', 31, 'bold', { align: 'left', fill: '#000' }));
graphics.push(txt(0, 748, '(b)', 31, 'bold', { align: 'left', fill: '#000' }));
SCENARIOS.forEach((s, c) => {
  graphics.push(txt((COLS_A[c][0] + COLS_A[c][1]) / 2, 22, s, 21.5, 'bold'));
  graphics.push(txt((COLS_B[c][0] + COLS_B[c][1]) / 2, 773, s, 21.5, 'bold'));
});
PANELS_A.forEach((spec, r) => {
  graphics.push(txt(81.5, (ROWS_A[r][0] + ROWS_A[r][1]) / 2, spec.label, 22, 'bold', { rot: R90 }));
});
graphics.push(txt(50, 347, '(mio.ha)', 25, 'normal', { rot: R90 }));
PANELS_B.forEach((spec, r) => {
  const cy = (ROWS_B[r][0] + ROWS_B[r][1]) / 2;
  graphics.push(txt(55.5, cy, spec.label[0], 23.5, 'bold', { rot: R90 }));
  graphics.push(txt(80.5, cy, spec.label[1], 23, 'bold', { rot: R90 }));
});
graphics.push(txt(501, 1471, 'Year', 24.5, 'bold'));

// ---------------- legends ----------------
function legend(xT, xTx, k0, k1, dotX, ys) {
  const g = [];
  g.push(txt(xT, ys[0], 'Historical', 22.5, 'bold', { align: 'left', fill: '#000' }));
  g.push({ type: 'circle', silent: true, z: 100, shape: { cx: dotX, cy: ys[1], r: 4.5 }, style: { fill: COLORS.LUH2 } });
  g.push(txt(xTx, ys[1], 'LUH2', 20.5, 'normal', { align: 'left', fill: '#000' }));
  g.push(txt(xT, ys[2], 'Impact', 22.5, 'bold', { align: 'left', fill: '#000' }));
  const imp = [['2015CO2', k0, k0 + 13, null], ['NoAdapt', k0 + 1, k0 + 12, [2.6, 5]], ['RCP', k0, k1, null]];
  imp.forEach((it, i) => {
    g.push({ type: 'line', silent: true, z: 100, shape: { x1: it[1], y1: ys[3 + i], x2: it[2], y2: ys[3 + i] },
      style: { stroke: '#000', lineWidth: 2.6, lineDash: it[3], lineCap: 'butt' } });
    g.push(txt(xTx, ys[3 + i], it[0], 20.5, 'normal', { align: 'left', fill: '#000' }));
  });
  g.push(txt(xT, ys[6], 'Model', 22.5, 'bold', { align: 'left', fill: '#000' }));
  ['IMAGE', 'LUH2', 'MAgPIE'].forEach((m, i) => {
    g.push({ type: 'line', silent: true, z: 100, shape: { x1: k0, y1: ys[7 + i], x2: k1 + 4, y2: ys[7 + i] },
      style: { stroke: COLORS[m], lineWidth: 2.6, lineCap: 'butt' } });
    g.push(txt(xTx, ys[7 + i], m, 20.5, 'normal', { align: 'left', fill: '#000' }));
  });
  return g;
}
legend(867, 895, 868, 886, 877, [225, 254, 290, 318, 340, 362, 397, 427, 448, 469]).forEach(e => graphics.push(e));
legend(865, 892, 865, 883, 874, [980, 1008, 1043, 1070, 1092, 1115, 1152, 1178, 1200, 1221]).forEach(e => graphics.push(e));

const chart = echarts.init(document.getElementById('c'), null, { renderer: 'canvas', width: 984, height: 1483 });
chart.setOption({
  backgroundColor: '#ffffff',
  animation: false,
  grid: grids, xAxis: xAxes, yAxis: yAxes, series: series, graphic: graphics
});
</script>
</body></html>
